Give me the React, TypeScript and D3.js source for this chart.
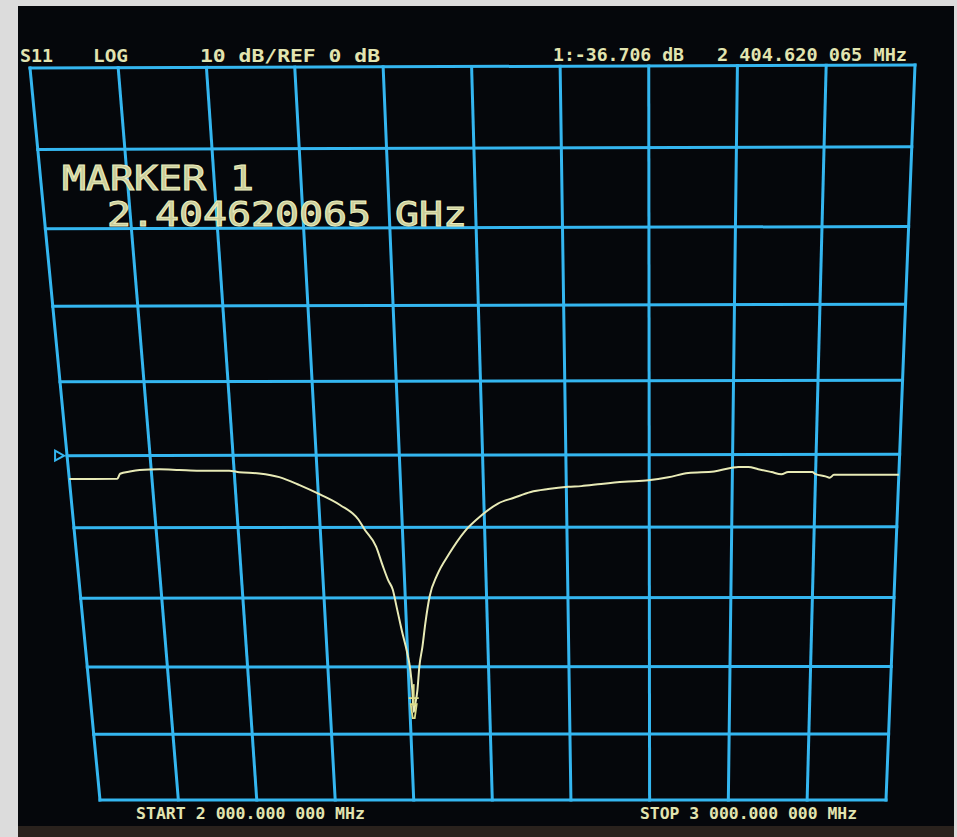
import React from "react";
import * as d3 from "d3";

// ---- data ----
const freqMHz = [2000, 2058, 2062, 2074, 2086, 2110, 2134, 2158, 2194, 2206, 2230, 2254, 2278, 2302, 2326, 2347, 2354, 2367, 2374, 2380, 2385, 2389, 2394, 2399.6, 2402.5, 2404, 2404.6, 2407, 2410.4, 2413.9, 2418.7, 2423.4, 2430, 2440, 2456, 2475.5, 2496, 2517, 2536.5, 2557, 2578, 2602, 2618, 2642, 2670, 2699, 2723, 2747, 2778, 2799, 2807, 2819, 2831, 2847, 2859, 2867, 2896, 2900, 2912, 2917, 2922, 3000];
const s11dB = [-3.2, -3.2, -2.5, -2.2, -2.0, -1.9, -2.0, -2.1, -2.1, -2.3, -2.5, -3.0, -4.1, -5.4, -6.9, -8.9, -10.3, -12.7, -15.4, -17.5, -18.8, -21.4, -24.7, -28.0, -30.4, -33.4, -36.7, -35.5, -33.4, -30.0, -27.1, -23.7, -19.8, -16.8, -13.7, -10.6, -8.4, -6.7, -5.9, -5.1, -4.7, -4.4, -4.3, -4.0, -3.7, -3.5, -3.1, -2.5, -2.3, -1.8, -1.7, -1.7, -2.0, -2.4, -2.7, -2.4, -2.4, -2.7, -3.0, -3.2, -2.8, -2.8];
const freqDomain = [2000, 3000];
const dbDomain = [50, -50]; // 10 dB/div, REF 0 dB at center
const xDivisions = 10;
const yDivisions = 10;
const markerFreq = 2404.620065;
const markerDb = -36.706;
const refDb = 0;

const headerLabels = ["S11", "LOG", "10 dB/REF 0 dB", "1:-36.706 dB", "2 404.620 065 MHz"];
const footerLabels = ["START 2 000.000 000 MHz", "STOP 3 000.000 000 MHz"];
const markerLabels = ["MARKER 1", "2.404620065 GHz"];

// ---- layout (photo perspective quad of the graticule) ----
const W = 957, H = 837;
const TL = [30, 68], TR = [915, 65], BR = [886, 800], BL = [100, 800];

function makeHomography() {
  const [x0, y0] = TL, [x1, y1] = TR, [x2, y2] = BR, [x3, y3] = BL;
  const dx1 = x1 - x2, dx2 = x3 - x2, dx3 = x0 - x1 + x2 - x3;
  const dy1 = y1 - y2, dy2 = y3 - y2, dy3 = y0 - y1 + y2 - y3;
  const den = dx1 * dy2 - dy1 * dx2;
  const g = (dx3 * dy2 - dy3 * dx2) / den;
  const h = (dx1 * dy3 - dy1 * dx3) / den;
  const a = x1 - x0 + g * x1, b = x3 - x0 + h * x3, c = x0;
  const d = y1 - y0 + g * y1, e = y3 - y0 + h * y3, f = y0;
  return (u: number, v: number): [number, number] => {
    const w = g * u + h * v + 1;
    return [(a * u + b * v + c) / w, (d * u + e * v + f) / w];
  };
}
const proj = makeHomography();

const xScale = d3.scaleLinear().domain(freqDomain).range([0, 1]);
const yScale = d3.scaleLinear().domain(dbDomain).range([0, 1]);
const P = (f: number, db: number) => proj(xScale(f), yScale(db));

const GRID = "#34b6f0";
const TRACE = "#e8eab6";
const TEXT = "#e2e4b0";

export default function App() {
  const straight = d3.line<[number, number]>().x((p) => p[0]).y((p) => p[1]);
  const smooth = d3.line<[number, number]>().x((p) => p[0]).y((p) => p[1]).curve(d3.curveMonotoneX);
  const tracePts = freqMHz.map((f, i) => P(f, s11dB[i]));

  const vLines = d3.range(xDivisions + 1).map((i) => {
    const f = freqDomain[0] + (i * (freqDomain[1] - freqDomain[0])) / xDivisions;
    return [P(f, dbDomain[0]), P(f, dbDomain[1])] as [number, number][];
  });
  const hLines = d3.range(yDivisions + 1).map((i) => {
    const db = dbDomain[0] + (i * (dbDomain[1] - dbDomain[0])) / yDivisions;
    return [P(freqDomain[0], db), P(freqDomain[1], db)] as [number, number][];
  });

  const [mx, my] = P(markerFreq, markerDb);
  const [rx, ry] = P(freqDomain[0], refDb);

  const mono = "'DejaVu Sans Mono', 'Liberation Mono', monospace";

  return (
    <svg width={W} height={H} style={{ position: "absolute", left: 0, top: 0 }} xmlns="http://www.w3.org/2000/svg">
      <rect x={0} y={0} width={W} height={H} fill="#dcdcdc" />
      <rect x={18} y={6} width={936} height={831} fill="#05070b" />
      <rect x={18} y={826} width={936} height={11} fill="#2a221d" />

      {/* header */}
      <g fill={TEXT} fontFamily={mono} fontWeight="bold" fontSize={18}>
        <text x={20} y={62} textLength={33} lengthAdjust="spacingAndGlyphs">{headerLabels[0]}</text>
        <text x={93} y={62} textLength={35} lengthAdjust="spacingAndGlyphs">{headerLabels[1]}</text>
        <text x={200} y={62} textLength={180} lengthAdjust="spacingAndGlyphs">{headerLabels[2]}</text>
        <text x={553} y={61} textLength={131} lengthAdjust="spacingAndGlyphs">{headerLabels[3]}</text>
        <text x={717} y={61} textLength={190} lengthAdjust="spacingAndGlyphs">{headerLabels[4]}</text>
      </g>

      {/* graticule */}
      <g stroke={GRID} strokeWidth={3} strokeLinecap="square" fill="none">
        {vLines.map((l, i) => <path key={"v" + i} d={straight(l) || ""} />)}
        {hLines.map((l, i) => <path key={"h" + i} d={straight(l) || ""} />)}
      </g>

      {/* marker annotation */}
      <g fontFamily={mono} fontSize={34} fill="#c9cc9a" stroke="#eceebe" strokeWidth={1}>
        <text x={62} y={190} textLength={192} lengthAdjust="spacingAndGlyphs">{markerLabels[0]}</text>
        <text x={107} y={226} textLength={360} lengthAdjust="spacingAndGlyphs">{markerLabels[1]}</text>
      </g>

      {/* reference position marker */}
      <path d={`M${rx - 12},${ry - 5} L${rx - 3},${ry} L${rx - 12},${ry + 5} Z`} fill="none" stroke={GRID} strokeWidth={2} />

      {/* trace */}
      <path d={smooth(tracePts) || ""} fill="none" stroke={TRACE} strokeWidth={2} strokeLinejoin="round" />

      {/* marker glyph */}
      <g stroke="#dcdc8a" strokeWidth={1.8} fill="none">
        <path d={`M${mx},${my - 28} L${mx},${my - 6}`} />
        <path d={`M${mx - 5},${my - 14} L${mx + 5},${my - 14}`} />
        <path d={`M${mx - 3},${my - 8} L${mx + 3},${my - 8} L${mx + 1},${my + 6} L${mx - 1},${my + 6} Z`} />
      </g>

      {/* footer */}
      <g fill={TEXT} fontFamily={mono} fontWeight="bold" fontSize={15}>
        <text x={136} y={819} textLength={229} lengthAdjust="spacingAndGlyphs">{footerLabels[0]}</text>
        <text x={640} y={819} textLength={217} lengthAdjust="spacingAndGlyphs">{footerLabels[1]}</text>
      </g>
    </svg>
  );
}
